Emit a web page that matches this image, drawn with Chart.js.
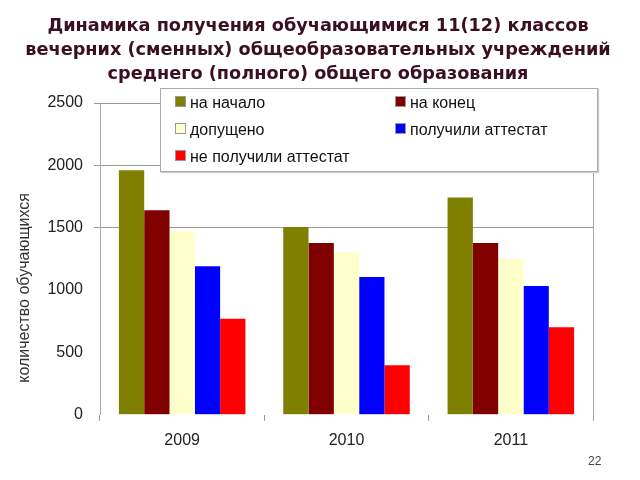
<!DOCTYPE html>
<html lang="ru">
    <head>
        <meta charset="UTF-8" />
        <title>Динамика получения</title>
        <script src="https://cdn.jsdelivr.net/npm/chart.js"></script>
        <style>
            body { margin: 0; background: #fff; }
            #wrap { position: relative; width: 640px; height: 480px; }
            #legend {
                position: absolute; left: 160px; top: 88px; width: 436px; height: 82px;
                background: #fff; border: 1px solid #aaa; box-shadow: 1px 1px 1px #ccc;
                font-family: "Liberation Sans", Arial, sans-serif; font-size: 16px; color: #111;
            }
            #legend .item { position: absolute; white-space: nowrap; line-height: 18px; }
            #legend .sw { display: inline-block; width: 9px; height: 9px; margin-right: 4px; border: 1px solid #999; vertical-align: 1px; }
            #pagenum {
                position: absolute; left: 588px; top: 454px;
                font-family: "Liberation Sans", Arial, sans-serif; font-size: 12px; color: #444;
            }
        </style>
    </head>
    <body>
        <div id="wrap">
            <canvas id="myChart" width="640" height="480"></canvas>
            <div id="legend"></div>
            <div id="pagenum">22</div>
        </div>

        <script>
            const years = ["2009", "2010", "2011"];
            const seriesNames = ["на начало", "на конец", "допущено", "получили аттестат", "не получили аттестат"];
            const naNachalo = [1960, 1506, 1742];
            const naKonec = [1640, 1378, 1378];
            const dopuscheno = [1473, 1302, 1253];
            const poluchili = [1192, 1105, 1032];
            const nePoluchili = [770, 398, 702];
            const seriesColors = ["#808000", "#800000", "#FFFFCC", "#0000FF", "#FF0000"];
            const yTicks = [0, 500, 1000, 1500, 2000, 2500];
            const yTitle = "количество обучающихся";

            const allValues = [naNachalo, naKonec, dopuscheno, poluchili, nePoluchili];

            // легенда поверх графика, в две колонки
            const legend = document.getElementById("legend");
            seriesNames.forEach((name, i) => {
                const item = document.createElement("div");
                item.className = "item";
                item.style.left = (i % 2 === 0 ? 14 : 234) + "px";
                item.style.top = (5 + Math.floor(i / 2) * 27) + "px";
                item.innerHTML = '<span class="sw" style="background:' + seriesColors[i] + '"></span>' + name;
                legend.appendChild(item);
            });

            // подпись оси Y чуть ниже центра, как в оригинале
            const yTitlePlugin = {
                id: "yTitlePlugin",
                afterDraw(chart) {
                    const c = chart.ctx;
                    const area = chart.chartArea;
                    c.save();
                    c.translate(25, (area.top + area.bottom) / 2 + 29);
                    c.rotate(-Math.PI / 2);
                    c.textAlign = "center";
                    c.textBaseline = "middle";
                    c.fillStyle = "#333";
                    c.font = '16px "Liberation Sans"';
                    c.fillText(yTitle, 0, 0);
                    c.restore();
                },
            };

            const ctx = document.getElementById("myChart").getContext("2d");
            const myChart = new Chart(ctx, {
                type: "bar",
                data: {
                    labels: years,
                    datasets: seriesNames.map((name, i) => ({
                        label: name,
                        data: allValues[i],
                        backgroundColor: seriesColors[i],
                        borderWidth: 0,
                        categoryPercentage: 0.77,
                        barPercentage: 1.0,
                    })),
                },
                plugins: [yTitlePlugin],
                options: {
                    responsive: false,
                    animation: false,
                    layout: { padding: { left: 0, right: 4, bottom: 20 } },
                    plugins: {
                        legend: { display: false },
                        tooltip: { enabled: false },
                        title: {
                            display: true,
                            text: [
                                "Динамика получения обучающимися 11(12) классов",
                                "вечерних (сменных) общеобразовательных учреждений",
                                "среднего (полного) общего образования",
                            ],
                            color: "#3a0f22",
                            font: { family: "DejaVu Sans", size: 17.7, weight: "bold", lineHeight: 1.356 },
                            padding: { top: 14, bottom: 17 },
                        },
                    },
                    scales: {
                        x: {
                            offset: true,
                            grid: {
                                offset: true,
                                drawOnChartArea: false,
                                drawTicks: true,
                                tickLength: 6,
                                color: "#999",
                            },
                            border: { display: false },
                            ticks: {
                                color: "#222",
                                padding: 10,
                                font: { family: "Liberation Sans", size: 16 },
                            },
                        },
                        y: {
                            min: 0,
                            max: 2500,
                            afterBuildTicks: (axis) => {
                                axis.ticks = yTicks.map((v) => ({ value: v }));
                            },
                            afterFit: (axis) => {
                                axis.width = 100;
                            },
                            grid: {
                                color: (c) => (c.tick && c.tick.value >= 1500 ? "#999" : "rgba(0,0,0,0)"),
                                tickLength: 6,
                            },
                            border: { display: true, color: "#aaa" },
                            ticks: {
                                color: "#222",
                                padding: 11,
                                font: { family: "Liberation Sans", size: 16 },
                                callback: (v) => String(v),
                            },
                        },
                        yRight: {
                            position: "right",
                            min: 0,
                            max: 2500,
                            afterFit: (axis) => {
                                axis.width = 43;
                            },
                            grid: { display: false },
                            ticks: { display: false },
                            border: { display: true, color: "#aaa" },
                        },
                    },
                },
            });
        </script>
    </body>
</html>
